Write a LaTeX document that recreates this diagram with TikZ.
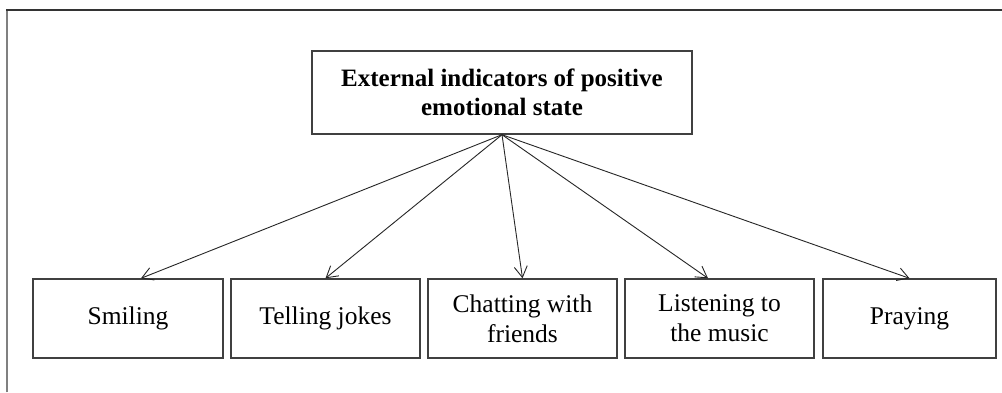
\documentclass[tikz,border=0pt]{standalone}
\usepackage{fontspec}
\setmainfont{Liberation Serif}
\usetikzlibrary{arrows.meta}
\begin{document}
\begin{tikzpicture}[x=1pt,y=-1pt,
  box/.style={draw=black!75,line width=1.4pt,minimum height=79pt,inner sep=0pt,align=center,
    font=\fontsize{25.5}{30}\selectfont},
  conn/.style={draw=black!85,line width=0.9pt,-{Straight Barb[length=11pt,width=13pt,line width=0.9pt]}}]
\useasboundingbox (0,0) rectangle (1002,392);
\fill[white] (0,0) rectangle (1002,392);
\draw[black!80,line width=2pt] (7,392) coordinate (fl) -- (7,10) coordinate (fc) -- (1002,10) coordinate (fr);
\draw[black!50,line width=2pt] (7,392) -- (7,11);
\node[box,minimum width=380pt,minimum height=83pt,font=\fontsize{25}{29}\selectfont\bfseries] (top) at (502,92.5)
  {External indicators of positive\\emotional state};
\node[box,minimum width=190pt] (smi) at (128,318.5) {Smiling};
\node[box,minimum width=189pt] (tel) at (325.5,318.5) {Telling jokes};
\node[box,minimum width=189pt] (cha) at (522.5,318.5) {Chatting with\\friends};
\node[box,minimum width=189pt] (lis) at (719.5,318.5) {Listening to\\the music};
\node[box,minimum width=173pt] (pra) at (909.5,318.5) {Praying};
\draw[conn] (top.south) -- ([xshift=13pt]smi.north);
\draw[conn] (top.south) -- (tel.north);
\draw[conn] (top.south) -- (cha.north);
\draw[conn] (top.south) -- ([xshift=-11.5pt]lis.north);
\draw[conn] (top.south) -- (pra.north);
\end{tikzpicture}
\end{document}
